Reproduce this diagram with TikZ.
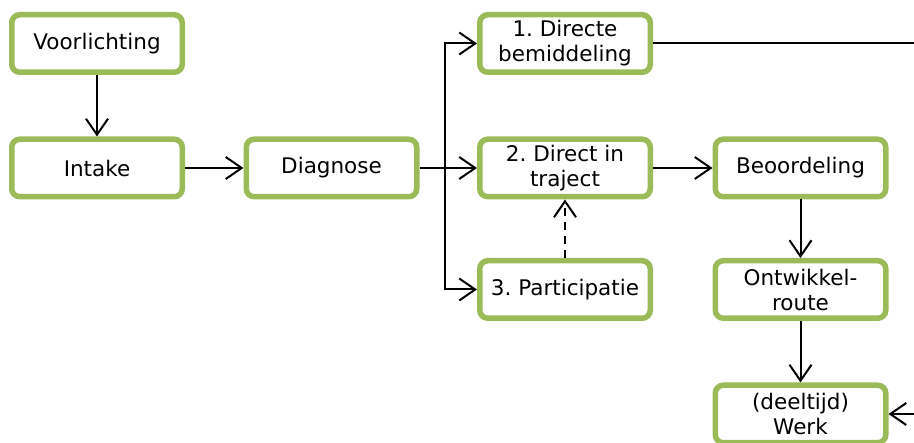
\documentclass[tikz,border=0pt]{standalone}
\usepackage{fontspec}
\setmainfont{DejaVu Sans}
\usepackage{xcolor}
\definecolor{groen}{HTML}{9BBB59}
\usetikzlibrary{positioning,arrows.meta}
\frenchspacing
\tikzset{stap/.style={draw=groen,line width=5.5pt,rounded corners=8pt,fill=white,
        minimum width=170.5pt,minimum height=57.5pt,align=center,inner sep=0pt,
        font=\fontsize{21.5}{25}\selectfont},
    pijl/.style={line width=2pt,-{Straight Barb[length=16pt,width=22pt,line width=2pt]}}}

\begin{document}
\begin{tikzpicture}[x=1pt,y=-1pt]
        \useasboundingbox (0,0) rectangle (914,443);
        \clip (0,0) rectangle (914,443);
        % linker kolom
        \node[stap] (voorl) at (97,43.5) {Voorlichting};
        \node[stap] (intake) at (97,168) {Intake};
        \node[stap] (diag) at (331.5,168) {Diagnose};
        % drie routes
        \node[stap] (dir1) at (565,43.5) {1. Directe\\bemiddeling};
        \node[stap] (dir2) at (565,168) {2. Direct in\\traject};
        \node[stap] (part) at (565,289.5) {3. Participatie};
        % rechter kolom
        \node[stap] (beoord) at (800.5,168) {Beoordeling};
        \node[stap] (ontw) at (800.5,289.5) {Ontwikkel-\\route};
        \node[stap] (werk) at (800.5,414) {(deeltijd)\\Werk};
        \coordinate (split) at (445,168);
        \coordinate (rand) at (930,43.5);
        \draw[pijl] (voorl) -- (intake);
        \draw[pijl] (intake) -- (diag);
        \draw[pijl] (diag) -- (dir2);
        \draw[pijl] (split) |- (dir1);
        \draw[pijl] (split) |- (part);
        \draw[pijl,dash pattern=on 8pt off 6pt] (part) -- (dir2);
        \draw[pijl] (dir2) -- (beoord);
        \draw[pijl] (beoord) -- (ontw);
        \draw[pijl] (ontw) -- (werk);
        \draw[pijl] (dir1) -- (rand) |- (werk); % loopt buiten beeld om
\end{tikzpicture}
\end{document}
